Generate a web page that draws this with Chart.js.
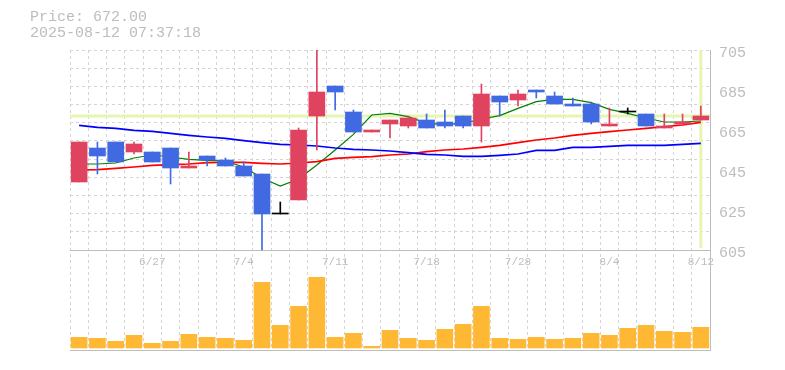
<!DOCTYPE html>
<html>
<head>
<meta charset="utf-8">
<script src="https://cdn.jsdelivr.net/npm/chart.js@4/dist/chart.umd.min.js"></script>
<style>
    html, body { margin: 0; padding: 0; background: #ffffff; }
</style>
</head>
<body>
<canvas id="priceChart" width="785" height="370"></canvas>
<script>
// 1. Datos (velas diarias)
const dates = ['6/23', '6/24', '6/25', '6/26', '6/27', '6/30', '7/1', '7/2', '7/3', '7/4',
    '7/7', '7/8', '7/9', '7/10', '7/11', '7/14', '7/15', '7/16', '7/17', '7/18',
    '7/22', '7/23', '7/24', '7/25', '7/28', '7/29', '7/30', '7/31', '8/1', '8/4',
    '8/5', '8/6', '8/7', '8/8', '8/12'];

const opens  = [639, 656, 659, 654, 654, 656, 646, 652, 650, 647, 643, 623, 630, 672, 687, 674, 664, 668,
    667, 670, 669, 672, 667, 682, 680, 685, 682, 678, 678, 667, 674, 673, 666, 668, 670];
const highs  = [659, 659, 659, 659, 654, 656, 654, 652, 651, 649, 643, 629, 666, 705, 687, 675, 665, 670,
    672, 673, 675, 672, 688, 682, 685, 685, 684, 681, 679, 676, 676, 673, 673, 673, 677];
const lows   = [639, 643, 649, 653, 649, 638, 646, 647, 647, 642, 605, 623, 630, 655, 675, 664, 664, 661,
    666, 666, 666, 666, 659, 672, 677, 681, 678, 677, 668, 667, 673, 667, 666, 668, 670];
const closes = [659, 652, 649, 658, 649, 646, 647, 650, 647, 642, 623, 623, 665, 684, 684, 664, 665, 670,
    671, 666, 667, 667, 683, 679, 683, 684, 678, 677, 669, 668, 674, 667, 667, 669, 672];

// medias móviles
const ma5  = [648, 648, 648.5, 651, 652.5, 651.5, 650.3, 649.8, 649.5, 646.5, 641, 637, 640.5, 647.5, 655,
    662.8, 672.5, 673.3, 671.7, 668.3, 667.8, 668.3, 670.5, 672.2, 675.8, 679.2, 680.3, 680.3, 678.7,
    675.3, 673.3, 671, 669, 669, 669.5];
const ma25 = [645, 645.2, 645.8, 646.5, 647.3, 647.7, 648, 648.7, 648.8, 648.8, 648.3, 648, 648.5, 649.2,
    650.8, 651.3, 651.7, 652.5, 653, 654.2, 655, 655.5, 656.3, 657.3, 658.7, 660, 661, 662.3, 663.3,
    664.2, 665, 665.8, 666.7, 667.5, 668.8];
const ma75 = [667.3, 666.3, 665.8, 664.8, 664.3, 663.3, 662.3, 661.5, 660.8, 659.7, 658.7, 657.8, 657.5,
    657, 656, 655.3, 655, 654.5, 653.7, 652.8, 652.5, 651.8, 651.8, 652.3, 653, 654.8, 654.8, 656.3,
    656.3, 656.8, 657.3, 657.3, 657.3, 657.8, 658.3];

const volumes = [10700, 9700, 6700, 12700, 4700, 6700, 13700, 10700, 9700, 7700, 65700, 22700, 41700,
    70700, 10700, 14700, 1700, 17700, 9700, 7700, 18700, 23700, 41700, 9700, 8700, 10700, 8700, 9700,
    14700, 12700, 19700, 22700, 16700, 15700, 20700];

const priceTicks = [605, 625, 645, 665, 685, 705];
const titleLines = ['Price: 672.00', '2025-08-12 07:37:18'];

// 2. Estilos
const MONO = "'Liberation Mono', 'DejaVu Sans Mono', monospace";
const GRAY = '#bdbdbd';
const GRID = '#d4d4d4';
const UP = '#e0435f';
const DOWN = '#4169e1';
const EVEN = '#000000';

const candleColors = opens.map((o, i) => closes[i] > o ? UP : (closes[i] < o ? DOWN : EVEN));

// cruz amarilla sobre el último precio
const crosshair = {
    id: 'crosshair',
    beforeDatasetsDraw(chart) {
        const { ctx, chartArea, scales } = chart;
        const last = closes.length - 1;
        const py = scales.yPrice.getPixelForValue(closes[last]);
        const px = scales.x.getPixelForValue(last);
        ctx.save();
        ctx.strokeStyle = '#e6f5b2';
        ctx.lineWidth = 3;
        ctx.beginPath();
        ctx.moveTo(chartArea.left, py);
        ctx.lineTo(chartArea.right, py);
        ctx.moveTo(px, chartArea.top);
        ctx.lineTo(px, scales.yPrice.getPixelForValue(priceTicks[0]) - 2);
        ctx.stroke();
        ctx.restore();
    }
};

// 3. Gráfico
const ctx = document.getElementById('priceChart').getContext('2d');

const chart = new Chart(ctx, {
    type: 'bar',
    data: {
        labels: dates,
        datasets: [
            { type: 'line', label: 'MA5', data: ma5, yAxisID: 'yPrice', borderColor: '#008000',
              borderWidth: 1.2, pointRadius: 0, tension: 0, order: 5 },
            { type: 'line', label: 'MA25', data: ma25, yAxisID: 'yPrice', borderColor: '#ff0000',
              borderWidth: 1.6, pointRadius: 0, tension: 0, order: 4 },
            { type: 'line', label: 'MA75', data: ma75, yAxisID: 'yPrice', borderColor: '#0000ff',
              borderWidth: 1.6, pointRadius: 0, tension: 0, order: 3 },
            { label: 'wick', data: lows.map((l, i) => [l, highs[i]]), yAxisID: 'yPrice',
              backgroundColor: candleColors, barThickness: 1, grouped: false, order: 2 },
            { label: 'body', data: opens.map((o, i) => [Math.min(o, closes[i]), Math.max(o, closes[i])]),
              yAxisID: 'yPrice', backgroundColor: candleColors, barThickness: 16, minBarLength: 1,
              grouped: false, order: 1 },
            { label: 'volume', data: volumes, yAxisID: 'yVol', backgroundColor: '#ffb834',
              barThickness: 16, grouped: false, order: 1 }
        ]
    },
    options: {
        responsive: false,
        animation: false,
        devicePixelRatio: 1,
        layout: { padding: { left: 30, right: 0, top: 0, bottom: 20 } },
        plugins: {
            legend: { display: false },
            tooltip: { enabled: false },
            title: {
                display: true,
                text: titleLines,
                align: 'start',
                color: GRAY,
                font: { family: MONO, size: 15, weight: 'normal', lineHeight: 16 / 15 },
                padding: { top: 9, bottom: 9 }
            }
        },
        scales: {
            x: {
                type: 'category',
                position: { yPrice: priceTicks[0] },
                offset: true,
                grid: { offset: true, color: GRID, drawTicks: false },
                border: { display: true, color: GRAY, dash: [3, 3] },
                ticks: {
                    autoSkip: false,
                    maxRotation: 0,
                    color: GRAY,
                    padding: 5,
                    font: { family: MONO, size: 11 },
                    callback: (v, i) => (i % 5 === 4 ? dates[i] : '')
                }
            },
            yPrice: {
                position: 'right',
                min: 555,
                max: 705,
                afterBuildTicks: (s) => { s.ticks = priceTicks.map(v => ({ value: v })); },
                afterFit: (s) => { s.width = 75; },
                grid: { drawOnChartArea: false, drawTicks: false },
                border: { display: true, color: GRAY },
                ticks: { color: GRAY, padding: 9, labelOffset: 3, font: { family: MONO, size: 15 } }
            },
            yGrid: {
                position: 'left',
                min: -5.5,
                max: 11,
                afterBuildTicks: (s) => { s.ticks = [1, 2, 3, 4, 5, 6, 7, 8, 9, 10, 11].map(v => ({ value: v })); },
                afterFit: (s) => { s.width = 40; },
                grid: { color: GRID, drawTicks: false },
                border: { display: false, dash: [3, 3] },
                ticks: { display: false }
            },
            yVol: {
                position: 'left',
                min: -2000,
                max: 298000,
                afterBuildTicks: (s) => { s.ticks = [{ value: s.min }]; },
                afterFit: (s) => { s.width = 0; },
                grid: { color: GRAY, drawTicks: false },
                border: { display: false },
                ticks: { display: false }
            }
        }
    },
    plugins: [crosshair]
});
</script>
</body>
</html>
